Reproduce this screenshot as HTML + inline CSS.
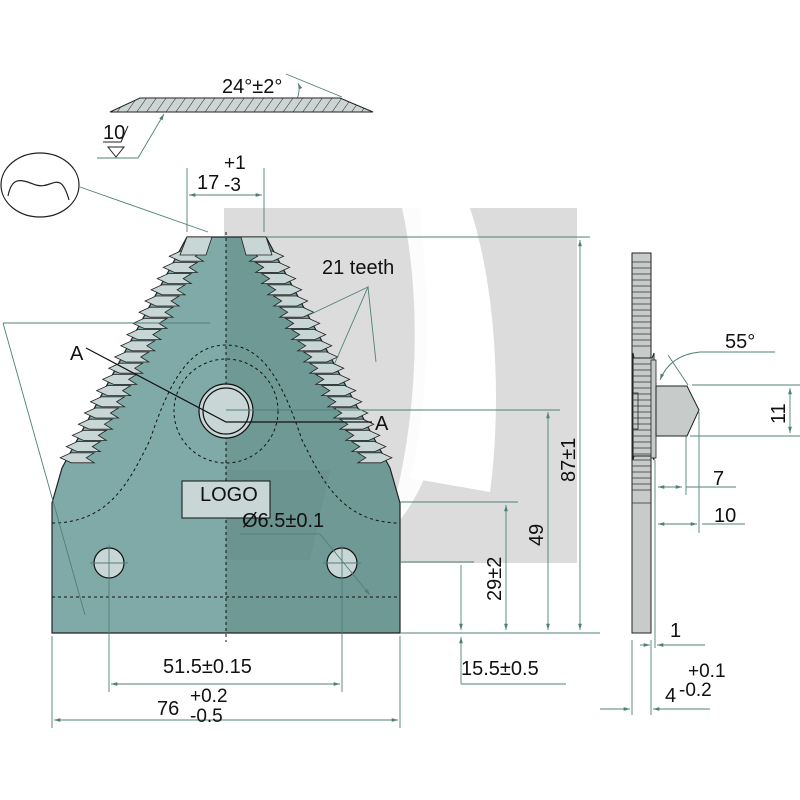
<!DOCTYPE html>
<html><head><meta charset="utf-8"><style>
html,body{margin:0;padding:0;background:#fff;}
svg{display:block;}
text{font-family:"Liberation Sans Narrow","Liberation Sans",sans-serif;fill:#111;}
</style></head><body>
<svg width="800" height="800" viewBox="0 0 800 800" xmlns="http://www.w3.org/2000/svg">
<defs>
<pattern id="h" width="8" height="8" patternUnits="userSpaceOnUse" patternTransform="rotate(35)">
<rect width="8" height="8" fill="#cdd5d4"/><line x1="0" y1="0" x2="0" y2="8" stroke="#222" stroke-width="1"/>
</pattern>
<marker id="a" viewBox="0 0 10 10" refX="10" refY="5" markerWidth="7" markerHeight="7" orient="auto-start-reverse"><path d="M0,2 L10,5 L0,8z" fill="#4f8078"/></marker>
</defs>
<!-- watermark -->
<rect x="224" y="208" width="353" height="355" fill="#dcdcdc"/>
<path d="M402,208 C420,290 420,400 395,500 L400,503 L400,520 C440,470 460,380 440,208 Z" fill="#fff" opacity="0.9"/>
<path d="M470,208 C500,300 500,420 490,492 L410,478 C430,400 430,300 420,208 Z" fill="#fff"/>
<path d="M505,208 C525,300 525,400 492,492 L520,500 C545,400 545,300 520,208Z" fill="#dcdcdc"/>
<!-- blade body -->
<polygon points="187,237 266,237 390,468 400,503 400,633 52,633 52,503 62,468" fill="#80aaa7"/>
<polygon points="226,237 266,237 390,468 400,503 400,633 226,633" fill="#6f9995"/>
<path d="M226,470 L330,470 L310,560 L226,560 Z" fill="#678f8b" opacity="0.5"/>
<polygon points="187,237 266,237 390,468 400,503 400,633 52,633 52,503 62,468" fill="none" stroke="#222" stroke-width="1.2"/>
<g id="teeth" fill="#c8d6d5" stroke="#222" stroke-width="0.8">
</g>
<g fill="#c8d6d5" stroke="#222" stroke-width="0.8">
<polygon points="187,237 212,237 206,255 180,255"/>
<polygon points="241,237 266,237 272,255 246,255"/>
</g>
<!-- dashed -->
<g fill="none" stroke="#111" stroke-width="1" stroke-dasharray="3,3">
<line x1="226" y1="232" x2="226" y2="642"/>
<line x1="52" y1="597" x2="400" y2="597"/>
<circle cx="226" cy="411" r="52"/>
<path d="M52,523 C110,523 130,480 150,440 C170,380 190,345 226,345 C262,345 282,380 302,440 C322,480 342,523 400,523"/>
</g>
<circle cx="226" cy="411" r="27" fill="#c8d6d5" stroke="#111" stroke-width="1.2"/>
<circle cx="226" cy="411" r="23" fill="#c8d6d5" stroke="#111" stroke-width="1.2"/>
<circle cx="109" cy="563" r="15" fill="#c8d6d5" stroke="#111" stroke-width="1.2"/>
<circle cx="342" cy="563" r="15" fill="#c8d6d5" stroke="#111" stroke-width="1.2"/>
<rect x="182" y="481" width="88" height="37" fill="#c8d6d5" stroke="#111" stroke-width="1"/>
<text x="200" y="501" font-size="20">LOGO</text>
<!-- section A -->
<g stroke="#111" stroke-width="1.2" fill="none">
<polyline points="86,348 226,422 372,422"/>
</g>
<text x="70" y="360" font-size="20">A</text>
<text x="375" y="430" font-size="20">A</text>
<!-- dim lines -->
<g stroke="#4f8078" stroke-width="0.9" fill="none">
<line x1="187" y1="168" x2="187" y2="232"/><line x1="264" y1="168" x2="264" y2="232"/>
<line x1="189" y1="195" x2="262" y2="195" marker-start="url(#a)" marker-end="url(#a)"/>
<line x1="80" y1="187" x2="208" y2="232"/>
<line x1="266" y1="237" x2="590" y2="237"/>
<line x1="580" y1="240" x2="580" y2="630" marker-start="url(#a)" marker-end="url(#a)"/>
<line x1="226" y1="410" x2="560" y2="410"/>
<line x1="548" y1="412" x2="548" y2="630" marker-start="url(#a)" marker-end="url(#a)"/>
<line x1="400" y1="502" x2="518" y2="502"/>
<line x1="506" y1="505" x2="506" y2="630" marker-start="url(#a)" marker-end="url(#a)"/>
<line x1="400" y1="562" x2="474" y2="562"/>
<line x1="461" y1="565" x2="461" y2="630" marker-end="url(#a)"/>
<line x1="400" y1="633" x2="600" y2="633"/>
<polyline points="461,684 461,637" marker-end="url(#a)"/><line x1="461" y1="684" x2="566" y2="684"/>
<line x1="309" y1="315" x2="368" y2="287"/>
<polyline points="334,365 368,287 376,362"/>
<line x1="210" y1="323" x2="3" y2="323"/><line x1="3" y1="323" x2="85" y2="615"/>
<line x1="240" y1="534" x2="320" y2="534"/><line x1="320" y1="534" x2="370" y2="595" marker-end="url(#a)"/>
<line x1="109" y1="545" x2="109" y2="692"/><line x1="342" y1="545" x2="342" y2="692"/>
<line x1="90" y1="563" x2="128" y2="563"/><line x1="323" y1="563" x2="361" y2="563"/>
<line x1="111" y1="684" x2="340" y2="684" marker-start="url(#a)" marker-end="url(#a)"/>
<line x1="52" y1="636" x2="52" y2="728"/><line x1="400" y1="636" x2="400" y2="728"/>
<line x1="54" y1="720" x2="398" y2="720" marker-start="url(#a)" marker-end="url(#a)"/>
<polyline points="97,158 138,158 164,114" marker-end="url(#a)"/>
<line x1="286" y1="74" x2="342" y2="97"/>
<path d="M298,83 Q302,92 292,110" marker-start="url(#a)"/>
<line x1="632" y1="640" x2="632" y2="715"/><line x1="651" y1="640" x2="651" y2="715"/><line x1="655" y1="460" x2="655" y2="648"/>
<line x1="600" y1="709" x2="630" y2="709" marker-end="url(#a)"/><line x1="710" y1="709" x2="653" y2="709" marker-end="url(#a)"/>
<line x1="640" y1="645" x2="650" y2="645" marker-end="url(#a)"/><line x1="705" y1="645" x2="657" y2="645" marker-end="url(#a)"/>
<line x1="658" y1="487" x2="682" y2="487" marker-start="url(#a)" marker-end="url(#a)"/><line x1="686" y1="487" x2="736" y2="487"/><line x1="686" y1="435" x2="686" y2="495"/>
<line x1="658" y1="524" x2="697" y2="524" marker-start="url(#a)" marker-end="url(#a)"/><line x1="702" y1="524" x2="745" y2="524"/><line x1="699" y1="412" x2="699" y2="533"/>
<line x1="692" y1="385" x2="800" y2="385"/><line x1="690" y1="436" x2="800" y2="436"/>
<line x1="790" y1="388" x2="790" y2="433" marker-start="url(#a)" marker-end="url(#a)"/>
<line x1="700" y1="352" x2="775" y2="352"/>
<path d="M700,352 Q670,355 660,380" marker-end="url(#a)"/>
<line x1="668" y1="355" x2="688" y2="385"/>
</g>
<!-- top cross section -->
<polygon points="110,112 140,98 340,98 373,112" fill="url(#h)" stroke="#222" stroke-width="1"/>
<text x="222" y="93" font-size="20">24°±2°</text>
<text x="103" y="139" font-size="20">10</text>
<polyline points="103,142 121,142 128,126" fill="none" stroke="#222" stroke-width="1"/>
<polygon points="108,147 124,147 116,157" fill="none" stroke="#222" stroke-width="1"/>
<ellipse cx="40" cy="185" rx="39" ry="32" fill="#fff" stroke="#222" stroke-width="1.2"/>
<path d="M8,196 C12,175 22,180 36,185 C52,190 60,168 69,200" fill="none" stroke="#222" stroke-width="1.2"/>
<!-- side view -->
<rect x="632" y="253" width="19" height="380" fill="#c7cccb" stroke="#222" stroke-width="1"/>
<path d="M633,353 L634,358 L652,358 L654,353 L654,460 L652,456 L634,456 L633,460Z" fill="#c7cccb" stroke="#222" stroke-width="1"/>
<rect x="651" y="360" width="5" height="98" fill="#c7cccb" stroke="#222" stroke-width="0.8"/>
<rect x="633" y="393" width="5" height="36" fill="#c7cccb" stroke="#222" stroke-width="0.8"/>
<polygon points="656,386 687,386 699,410 687,436 656,436" fill="#c7cccb" stroke="#222" stroke-width="1"/>
<g stroke="#333" stroke-width="0.7" id="sst"></g>
<line x1="632" y1="503" x2="651" y2="503" stroke="#333" stroke-width="0.7"/>
<!-- labels -->
<text x="197" y="189" font-size="20">17</text>
<text x="224" y="169" font-size="19">+1</text>
<text x="224" y="191" font-size="19">-3</text>
<text x="322" y="274" font-size="20">21 teeth</text>
<text x="242" y="527" font-size="20">Ø6.5±0.1</text>
<text x="163" y="673" font-size="20">51.5±0.15</text>
<text x="157" y="715" font-size="20">76</text>
<text x="190" y="702" font-size="19">+0.2</text>
<text x="190" y="722" font-size="19">-0.5</text>
<text x="461" y="675" font-size="20">15.5±0.5</text>
<text transform="translate(575,482) rotate(-90)" font-size="20">87±1</text>
<text transform="translate(543,546) rotate(-90)" font-size="20">49</text>
<text transform="translate(501,601) rotate(-90)" font-size="20">29±2</text>
<text x="725" y="348" font-size="20">55°</text>
<text transform="translate(785,424) rotate(-90)" font-size="20">11</text>
<text x="713" y="485" font-size="20">7</text>
<text x="714" y="522" font-size="20">10</text>
<text x="670" y="637" font-size="20">1</text>
<text x="688" y="677" font-size="19">+0.1</text>
<text x="665" y="702" font-size="20">4</text>
<text x="679" y="696" font-size="19">-0.2</text>
<script>
(function(){
var ns="http://www.w3.org/2000/svg",g=document.getElementById("teeth");
for(var i=1;i<21;i++){
 var y=240+i*11.2; if(y>460)break;
 var xl=187-(y-237)*125/231, xr=266+(y-237)*124/231;
 var p=document.createElementNS(ns,"polygon");
 p.setAttribute("points",[xl+1,y,xl+24,y,xl+16,y+5,xl+24,y+10,xl+1,y+10,xl-10,y+5].join(" "));
 g.appendChild(p);
 var q=document.createElementNS(ns,"polygon");
 q.setAttribute("points",[xr-1,y,xr-24,y,xr-16,y+5,xr-24,y+10,xr-1,y+10,xr+10,y+5].join(" "));
 g.appendChild(q);
}
var s=document.getElementById("sst");
for(var y=262;y<495;y+=6){ if(y>350&&y<362)continue;
 var l=document.createElementNS(ns,"line");
 l.setAttribute("x1",632);l.setAttribute("x2",651);l.setAttribute("y1",y);l.setAttribute("y2",y);s.appendChild(l);}
})();
</script>
</svg>
</body></html>
